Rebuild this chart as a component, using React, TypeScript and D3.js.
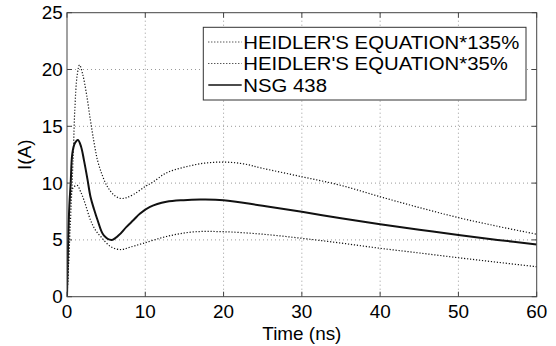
import React from 'react';
import * as d3 from 'd3';

// values (t in ns, I in A)
const upperT = [0, 0.4, 0.8, 1.0, 1.3, 1.6, 2.0, 2.5, 3.0, 3.45, 3.9, 4.5, 5.15, 6.0, 6.8, 7.5, 8.5, 10, 11, 12.7, 15, 17.5, 20, 22.5, 25, 30, 35, 40, 45, 50, 55, 60];
const upperI = [0, 6, 12.5, 16.5, 19.5, 20.4, 19.6, 17.8, 15.5, 13.6, 12.0, 10.7, 9.7, 8.95, 8.65, 8.7, 9.0, 9.7, 10.1, 10.9, 11.4, 11.75, 11.85, 11.7, 11.3, 10.56, 9.8, 8.8, 7.85, 6.96, 6.2, 5.5];

const lowerT = [0, 0.2, 0.47, 0.8, 1.3, 1.7, 2.17, 3.0, 3.6, 4.3, 5.6, 6.9, 8.0, 9.75, 12.7, 16.1, 20, 25, 30, 35, 40, 45, 50, 55, 60];
const lowerI = [0, 3, 8.8, 9.6, 9.8, 9.3, 8.5, 6.75, 5.9, 5.3, 4.4, 4.15, 4.35, 4.7, 5.3, 5.7, 5.72, 5.5, 5.14, 4.72, 4.26, 3.85, 3.43, 3.03, 2.64];

const nsgT = [0, 0.15, 0.3, 0.47, 0.68, 1.0, 1.4, 1.8, 2.17, 2.6, 3.0, 3.45, 3.9, 4.7, 5.7, 6.6, 7.6, 8.5, 9.3, 10.6, 12.7, 14.9, 17, 20, 25, 30, 35, 40, 45, 50, 55, 60];
const nsgI = [0, 5, 8, 10, 12.6, 13.5, 13.8, 13.2, 12.0, 10.4, 8.8, 7.7, 6.75, 5.4, 5.0, 5.4, 6.15, 6.75, 7.3, 7.9, 8.35, 8.5, 8.55, 8.5, 8.0, 7.48, 6.9, 6.37, 5.9, 5.43, 5.0, 4.6];

const xTicks = [0, 10, 20, 30, 40, 50, 60];
const yTicks = [0, 5, 10, 15, 20, 25];
const legendLabels = ["HEIDLER'S EQUATION*135%", "HEIDLER'S EQUATION*35%", 'NSG 438'];

const W = 556;
const H = 346;
const left = 67;
const right = 536.7;
const top = 12.7;
const bottom = 296.7;
const font = 'Liberation Sans, Arial, sans-serif';

type Pt = [number, number];

export default function App() {
  const x = d3.scaleLinear().domain([0, 60]).range([left, right]);
  const y = d3.scaleLinear().domain([0, 25]).range([bottom, top]);
  const line = d3.line<Pt>()
    .x(d => x(d[0]))
    .y(d => y(d[1]))
    .curve(d3.curveCatmullRom.alpha(0.5));

  const zip = (t: number[], v: number[]): Pt[] => t.map((d, i) => [d, v[i]]);
  const series = [
    { pts: zip(upperT, upperI), dash: '1.2,1.8', width: 1.2 },
    { pts: zip(lowerT, lowerI), dash: '1.2,1.8', width: 1.2 },
    { pts: zip(nsgT, nsgI), dash: undefined, width: 2 },
  ];

  const legendX = 203.3;
  const legendY = 27.3;
  const legendW = 322.7;
  const legendH = 72.7;
  const rowY = [42, 63.5, 85];

  return (
    <svg width={W} height={H} style={{ position: 'absolute', left: 0, top: 0, background: '#fff' }}>
      <rect width={W} height={H} fill="#fff" />
      <defs>
        <clipPath id="plot">
          <rect x={left} y={top} width={right - left} height={bottom - top} />
        </clipPath>
      </defs>
      {/* grid */}
      <g stroke="#999" strokeWidth={1} strokeDasharray="1,3">
        {xTicks.slice(1, -1).map(t => (
          <line key={'gx' + t} x1={x(t)} x2={x(t)} y1={top} y2={bottom} />
        ))}
        {yTicks.slice(1, -1).map(t => (
          <line key={'gy' + t} x1={left} x2={right} y1={y(t)} y2={y(t)} />
        ))}
      </g>
      {/* curves */}
      <g clipPath="url(#plot)" fill="none">
        {series.map((s, i) => (
          <path key={i} d={line(s.pts) || ''} stroke="#111" strokeWidth={s.width} strokeDasharray={s.dash} />
        ))}
      </g>
      {/* legend */}
      <rect x={legendX} y={legendY} width={legendW} height={legendH} fill="#fff" stroke="#333" strokeWidth={1} />
      {legendLabels.map((lab, i) => (
        <g key={lab}>
          <line x1={208.3} x2={241.7} y1={rowY[i]} y2={rowY[i]} stroke="#111"
            strokeWidth={i === 2 ? 1.5 : 1} strokeDasharray={i === 2 ? undefined : '1,2'} />
          <text transform={`translate(243.3,${rowY[i] + 6.7}) scale(1.1,1)`}
            fontFamily={font} fontSize={18.5} fill="#000">{lab}</text>
        </g>
      ))}
      {/* box and ticks */}
      <rect x={left} y={top} width={right - left} height={bottom - top} fill="none" stroke="#444" strokeWidth={1} />
      <g stroke="#444" strokeWidth={1}>
        {xTicks.map(t => (
          <g key={'tx' + t}>
            <line x1={x(t)} x2={x(t)} y1={bottom} y2={bottom - 5} />
            <line x1={x(t)} x2={x(t)} y1={top} y2={top + 5} />
          </g>
        ))}
        {yTicks.map(t => (
          <g key={'ty' + t}>
            <line x1={left} x2={left + 5} y1={y(t)} y2={y(t)} />
            <line x1={right} x2={right - 5} y1={y(t)} y2={y(t)} />
          </g>
        ))}
      </g>
      {/* tick labels */}
      <g fontFamily={font} fontSize={18} fill="#000">
        {xTicks.map(t => (
          <text key={'lx' + t} transform={`translate(${x(t)},317.5) scale(1.05,1)`} textAnchor="middle">{t}</text>
        ))}
        {yTicks.map(t => (
          <text key={'ly' + t} transform={`translate(62.7,${y(t) + 6.5}) scale(1.05,1)`} textAnchor="end">{t}</text>
        ))}
        <text transform={`translate(${(left + right) / 2},340) scale(1.05,1)`} textAnchor="middle">Time (ns)</text>
        <text transform={`translate(31,${(top + bottom) / 2}) rotate(-90) scale(1.05,1)`} textAnchor="middle">I(A)</text>
      </g>
    </svg>
  );
}
